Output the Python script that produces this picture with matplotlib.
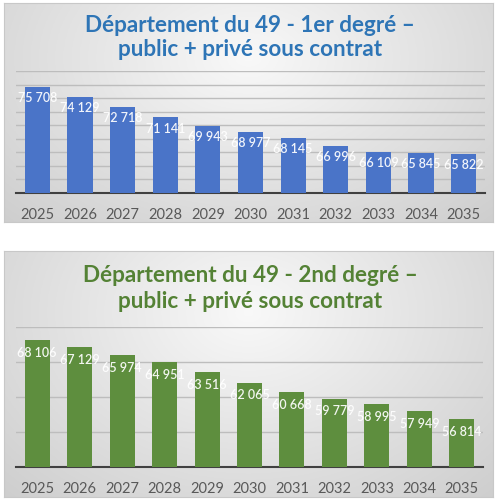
import matplotlib
matplotlib.use("Agg")
import matplotlib.pyplot as plt
import numpy as np

years = ["2025", "2026", "2027", "2028", "2029", "2030", "2031", "2032", "2033", "2034", "2035"]
primaire = [75708, 74129, 72718, 71141, 69943, 68977, 68145, 66996, 66109, 65845, 65822]
secondaire = [68106, 67129, 65974, 64951, 63516, 62065, 60668, 59779, 58995, 57949, 56814]
title1 = ["Département du 49 - 1er degré –", "public + privé sous contrat"]
title2 = ["Département du 49 - 2nd degré –", "public + privé sous contrat"]

FONT = "Lato"

fig = plt.figure(figsize=(5, 5), dpi=100)
fig.patch.set_facecolor("white")


def fmt(v):
    return f"{v:,}".replace(",", " ")


def panel(rect):
    bg = fig.add_axes(rect, zorder=0)
    yy, xx = np.mgrid[0:1:200j, 0:1:200j]
    d = np.sqrt(((xx - 0.5) / 0.75) ** 2 + ((yy - 0.25) / 1.1) ** 2)
    d = np.clip(d, 0, 1)
    c0 = np.array([0.975, 0.975, 0.975])
    c1 = np.array([0.80, 0.80, 0.80])
    img = c0[None, None, :] * (1 - d[..., None]) + c1[None, None, :] * d[..., None]
    bg.imshow(img, extent=(0, 1, 1, 0), aspect="auto", origin="upper")
    bg.set_xticks([])
    bg.set_yticks([])
    for s in bg.spines.values():
        s.set_color("#C8C8C8")
        s.set_linewidth(0.8)
    return bg


def chart(rect, values, ylim, step, color, offset):
    ax = fig.add_axes(rect, zorder=2)
    ax.patch.set_alpha(0)
    x = np.arange(len(years))
    ax.bar(x, [v - ylim[0] for v in values], bottom=ylim[0], width=0.59, color=color, zorder=3)
    ax.set_xlim(-0.5, len(years) - 0.5)
    ax.set_ylim(*ylim)
    ax.set_yticks(np.arange(ylim[0], ylim[1] + 1, step))
    ax.yaxis.grid(True, color="#BDBDBD", linewidth=1.0, zorder=0)
    ax.set_axisbelow(True)
    ax.tick_params(axis="y", left=False, labelleft=False)
    ax.set_xticks(x)
    ax.set_xticklabels(years, fontsize=10.5, color="#595959", family=FONT)
    ax.tick_params(axis="x", bottom=False, pad=7)
    for s in ["top", "right", "left"]:
        ax.spines[s].set_visible(False)
    ax.spines["bottom"].set_color("#404040")
    ax.spines["bottom"].set_linewidth(1.5)
    for xi, v in zip(x, values):
        ax.annotate(fmt(v), (xi, v), xytext=(0, offset), textcoords="offset points",
                    ha="center", va="center", color="white", alpha=0.92,
                    fontsize=9, family=FONT, fontweight="semibold", zorder=5)
    return ax


def title(lines, ys, color):
    for line, y in zip(lines, ys):
        fig.text(0.5, y, line, ha="center", va="center", fontsize=16.2, fontweight="bold",
                 color=color, family=FONT, zorder=3)


# top panel
panel([0.008, 0.556, 0.978, 0.438])
title(title1, [1 - 25 / 500, 1 - 49 / 500], "#2E75B6")
chart([0.032, 0.614, 0.938, 0.244], primaire, (60000, 78000), 2000, "#4A74C8", -8)

# bottom panel
panel([0.008, 0.006, 0.978, 0.492])
title(title2, [1 - 275 / 500, 1 - 301 / 500], "#548235")
chart([0.032, 0.066, 0.934, 0.28], secondaire, (50000, 70000), 5000, "#5E8E3E", -9)

fig.savefig("out.png", dpi=100)
